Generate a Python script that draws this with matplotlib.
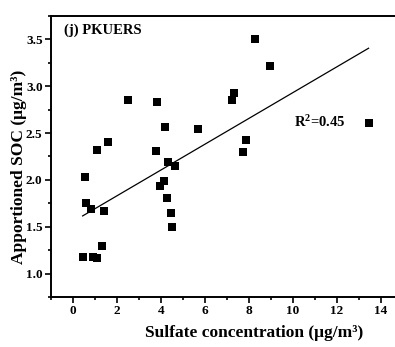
import numpy as np
import matplotlib
matplotlib.use('Agg')
import matplotlib.pyplot as plt
from matplotlib.ticker import MultipleLocator

# sulfate (ug/m3) vs apportioned SOC (ug/m3)
sulfate = [0.55, 0.59, 0.80, 1.42, 1.33, 0.44, 0.89, 1.10,
           2.48, 1.58, 1.10,
           3.80, 7.33, 7.21, 4.20, 5.67, 3.76, 4.32, 4.65, 4.15, 3.97, 4.29, 4.47, 4.51,
           8.26, 8.95, 7.85, 7.73, 13.44]
soc = [2.03, 1.75, 1.69, 1.67, 1.30, 1.18, 1.18, 1.17,
       2.85, 2.41, 2.32,
       2.83, 2.93, 2.85, 2.56, 2.54, 2.31, 2.19, 2.15, 1.99, 1.93, 1.81, 1.65, 1.50,
       3.50, 3.22, 2.43, 2.30, 2.61]
# regression line as drawn in the figure
fit_slope = 0.1377
fit_intercept = 1.555
r2_text = 'R$^2$=0.45'
panel_title = '(j) PKUERS'

plt.rcParams['font.family'] = 'Liberation Serif'
plt.rcParams['font.weight'] = 'bold'
plt.rcParams['mathtext.fontset'] = 'custom'
plt.rcParams['mathtext.rm'] = 'Liberation Serif:bold'
plt.rcParams['mathtext.it'] = 'Liberation Serif:bold'
plt.rcParams['mathtext.bf'] = 'Liberation Serif:bold'

fig = plt.figure(figsize=(3.95, 3.47), dpi=100)
ax = fig.add_axes([0.129, 0.144, 0.891, 0.810])

ax.scatter(sulfate, soc, marker='s', s=32, color='black', linewidths=0, zorder=3)

xs = np.array([min(sulfate), max(sulfate)])
ax.plot(xs, fit_slope * xs + fit_intercept, color='black', lw=0.9)

ax.set_xlim(-1, 15)
ax.set_ylim(0.75, 3.75)
ax.xaxis.set_major_locator(MultipleLocator(2))
ax.xaxis.set_minor_locator(MultipleLocator(1))
ax.yaxis.set_major_locator(MultipleLocator(0.5))
ax.yaxis.set_minor_locator(MultipleLocator(0.25))
ax.tick_params(which='both', direction='out', width=1.2, labelsize=9.5, pad=2)
ax.tick_params(which='major', length=4)
ax.tick_params(which='minor', length=2.5)
for lab in ax.get_xticklabels() + ax.get_yticklabels():
    lab.set_fontweight('bold')
for sp in ax.spines.values():
    sp.set_linewidth(1.4)

ax.text(-0.4, 3.6, panel_title, fontsize=10.5, fontweight='bold', va='center')
ax.text(10.05, 2.62, r2_text, fontsize=10.5, fontweight='bold', va='center')

fig.text(0.048, 0.52, 'Apportioned SOC (μg/m³)', rotation=90, ha='center', va='center',
         fontsize=12.5, fontweight='bold')
fig.text(0.643, 0.04, 'Sulfate concentration (μg/m³)', ha='center', va='center',
         fontsize=12.5, fontweight='bold')

fig.savefig('out.png', dpi=100)
